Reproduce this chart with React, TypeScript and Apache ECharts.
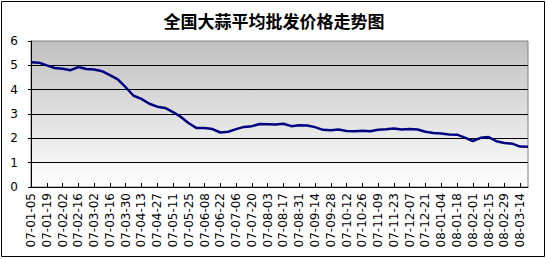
import React, { useEffect, useRef } from "react";
import * as echarts from "echarts";

const titleText = "全国大蒜平均批发价格走势图";

const categories = [
  "07-01-05", "07-01-12", "07-01-19", "07-01-26", "07-02-02", "07-02-09", "07-02-16", "07-02-23",
  "07-03-02", "07-03-09", "07-03-16", "07-03-23", "07-03-30", "07-04-06", "07-04-13", "07-04-20",
  "07-04-27", "07-05-04", "07-05-11", "07-05-18", "07-05-25", "07-06-01", "07-06-08", "07-06-15",
  "07-06-22", "07-06-29", "07-07-06", "07-07-13", "07-07-20", "07-07-27", "07-08-03", "07-08-10",
  "07-08-17", "07-08-24", "07-08-31", "07-09-07", "07-09-14", "07-09-21", "07-09-28", "07-10-05",
  "07-10-12", "07-10-19", "07-10-26", "07-11-02", "07-11-09", "07-11-16", "07-11-23", "07-11-30",
  "07-12-07", "07-12-14", "07-12-21", "07-12-28", "08-01-04", "08-01-11", "08-01-18", "08-01-25",
  "08-02-01", "08-02-08", "08-02-15", "08-02-22", "08-02-29", "08-03-07", "08-03-14", "08-03-21",
];

const prices = [
  5.13, 5.11, 5.0, 4.89, 4.86, 4.8, 4.93, 4.85,
  4.83, 4.76, 4.6, 4.42, 4.1, 3.75, 3.62, 3.42,
  3.3, 3.25, 3.08, 2.88, 2.62, 2.42, 2.42, 2.38,
  2.24, 2.27, 2.38, 2.47, 2.5, 2.59, 2.58, 2.57,
  2.6, 2.5, 2.54, 2.53, 2.46, 2.35, 2.33, 2.36,
  2.3, 2.29, 2.31, 2.29, 2.35, 2.37, 2.4, 2.36,
  2.38, 2.36, 2.27, 2.22, 2.2, 2.16, 2.15, 2.03,
  1.89, 2.02, 2.05, 1.88, 1.81, 1.78, 1.66, 1.65,
];

const yMin = 0;
const yMax = 6;
const yStep = 1;

export default function App() {
  const ref = useRef<HTMLDivElement>(null);

  useEffect(() => {
    if (!ref.current) return;
    const chart = echarts.init(ref.current, null, { renderer: "svg" });
    const labelFont = "DejaVu Sans";
    chart.setOption({
      animation: false,
      backgroundColor: "#ffffff",
      graphic: [
        {
          type: "rect",
          shape: { x: 1.5, y: 1.5, width: 543, height: 255 },
          style: { fill: "none", stroke: "#000000", lineWidth: 1 },
          z: 0,
        },
        {
          type: "text",
          x: 274,
          y: 20,
          style: {
            text: titleText,
            fontFamily: "Noto Sans CJK SC",
            fontWeight: "bold",
            fontSize: 17,
            fill: "#000000",
            textAlign: "center",
            textVerticalAlign: "middle",
          },
        },
      ],
      grid: {
        left: 31,
        top: 41,
        width: 497,
        height: 146,
        show: true,
        borderColor: "#808080",
        borderWidth: 1,
        backgroundColor: new echarts.graphic.LinearGradient(0, 0, 0, 1, [
          { offset: 0, color: "#c0c0c0" },
          { offset: 1, color: "#ffffff" },
        ]),
      },
      xAxis: {
        type: "category",
        data: categories,
        boundaryGap: false,
        axisLine: { show: true, lineStyle: { color: "#000000", width: 1 } },
        axisTick: { show: true, inside: true, length: 4, interval: 1, lineStyle: { color: "#000000" } },
        axisLabel: {
          interval: 1,
          rotate: 90,
          margin: 6,
          fontSize: 12,
          fontFamily: labelFont,
          color: "#000000",
        },
        splitLine: { show: false },
      },
      yAxis: {
        type: "value",
        min: yMin,
        max: yMax,
        interval: yStep,
        axisLine: { show: true, lineStyle: { color: "#000000", width: 1 } },
        axisTick: { show: true, length: 3, lineStyle: { color: "#000000" } },
        axisLabel: {
          margin: 13,
          fontSize: 12,
          fontFamily: labelFont,
          color: "#000000",
        },
        splitLine: {
          show: true,
          showMinLine: false,
          showMaxLine: false,
          lineStyle: { color: "#000000", width: 1 },
        },
      },
      series: [
        {
          type: "line",
          data: prices,
          symbol: "none",
          lineStyle: { color: "#000080", width: 2.5 },
        },
      ],
    });
    return () => chart.dispose();
  }, []);

  return (
    <div
      ref={ref}
      style={{ position: "absolute", left: 0, top: 0, width: 547, height: 259 }}
    />
  );
}
